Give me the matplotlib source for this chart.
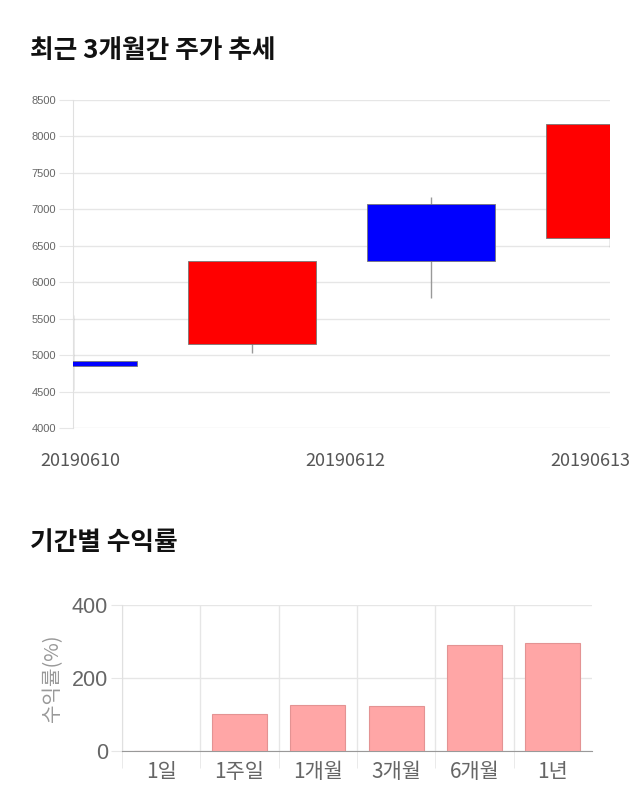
import numpy as np
import matplotlib
matplotlib.use("Agg")
import matplotlib.pyplot as plt

plt.rcParams['font.family'] = ['Noto Sans CJK KR', 'DejaVu Sans']

# --- candle data (최근 3개월간 주가 추세) ---
dates = ['20190610', '20190611', '20190612', '20190613']
opens = [4920, 5150, 7070, 6600]
closes = [4850, 6290, 6290, 8170]
highs = [5550, 6290, 7165, 8170]
lows = [4520, 5030, 5780, 6490]
date_labels = ['20190610', '20190612', '20190613']
date_label_pos = [0.04, 1.52, 2.89]

# --- returns data (기간별 수익률) ---
periods = ['1일', '1주일', '1개월', '3개월', '6개월', '1년']
returns = [0.5, 102, 126, 123, 290, 296]

fig = plt.figure(figsize=(6.4, 8.1), dpi=100)

fig.text(30/640, 1 - 50/810, '최근 3개월간 주가 추세', fontsize=18.5, fontweight='bold',
         va='center', ha='left', color='#111111')
fig.text(30/640, 1 - 543/810, '기간별 수익률', fontsize=18.5, fontweight='bold',
         va='center', ha='left', color='#111111')

# top: candles
ax = fig.add_axes([73/640, 1 - 428/810, 537/640, 328/810])
x = np.arange(len(dates))
for i in x:
    o, c = opens[i], closes[i]
    col = 'red' if c >= o else 'blue'
    ax.vlines(i, lows[i], highs[i], color='#999999', lw=1, zorder=2)
    ax.bar(i, abs(c - o), bottom=min(o, c), width=0.715, color=col,
           edgecolor='#777777', linewidth=0.6, zorder=3)
ax.set_xlim(0, 3)
ax.set_ylim(4000, 8500)
ax.set_yticks(np.arange(4000, 8501, 500))
ax.yaxis.grid(True, color='#e6e6e6', lw=1)
ax.set_axisbelow(True)
for s in ['top', 'right', 'bottom']:
    ax.spines[s].set_visible(False)
ax.spines['left'].set_color('#e0e0e0')
ax.tick_params(axis='y', length=10, color='#e6e6e6', labelsize=8, labelcolor='#666666', pad=2)
for t in ax.get_yticklabels():
    t.set_family(['Liberation Sans', 'DejaVu Sans'])
ax.set_xticks(date_label_pos)
ax.set_xticklabels(date_labels, fontsize=13, color='#555555')
ax.tick_params(axis='x', length=0, pad=17)

# bottom: returns bars
ax2 = fig.add_axes([122/640, 1 - 751/810, 470/640, 146/810])
xb = np.arange(len(periods))
ax2.bar(xb, returns, width=0.7, color='#ffa6a6', edgecolor='#e39393', linewidth=0.8, zorder=3)
ax2.set_xlim(-0.5, len(periods) - 0.5)
ax2.set_ylim(0, 400)
ax2.set_yticks([0, 200, 400])
ax2.yaxis.grid(True, color='#e6e6e6', lw=1)
ax2.set_xticks(xb - 0.5, minor=True)
ax2.xaxis.grid(True, which='minor', color='#e6e6e6', lw=1)
ax2.set_axisbelow(True)
ax2.set_xticks(xb)
ax2.set_xticklabels(periods, fontsize=15, color='#666666')
ax2.tick_params(axis='x', which='major', length=0, pad=7)
ax2.tick_params(axis='x', which='minor', length=12, color='#e6e6e6')
ax2.tick_params(axis='y', length=8, color='#e6e6e6', labelsize=15.5, labelcolor='#666666', pad=2)
for t in ax2.get_yticklabels():
    t.set_family(['Liberation Sans', 'DejaVu Sans'])
for s in ['top', 'right']:
    ax2.spines[s].set_visible(False)
ax2.spines['left'].set_color('#e0e0e0')
ax2.spines['bottom'].set_color('#999999')
ax2.set_ylabel('수익률(%)', fontsize=14.5, color='#999999', labelpad=6)

fig.savefig('out.png', dpi=100)
